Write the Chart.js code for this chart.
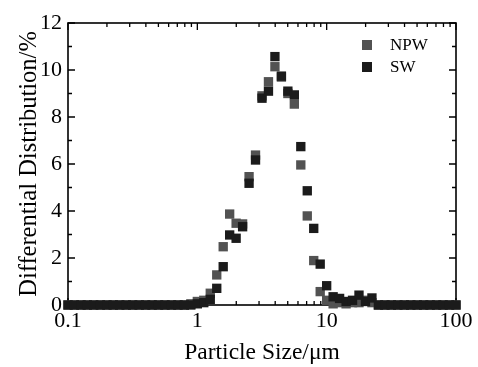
<!DOCTYPE html>
<html><head><meta charset="utf-8">
<script src="https://cdn.jsdelivr.net/npm/chart.js@4.4.1/dist/chart.umd.min.js"></script>
<style>html,body{margin:0;padding:0;background:#fff;}</style>
</head><body>
<canvas id="c" width="478" height="367" style="width:478px;height:367px;display:block"></canvas>
<script>
// Particle size bins (µm)
const sizes = [0.1, 0.112, 0.126, 0.141, 0.158, 0.178, 0.2, 0.224, 0.251, 0.282,
  0.316, 0.355, 0.398, 0.447, 0.501, 0.562, 0.631, 0.708, 0.794, 0.891,
  1, 1.122, 1.259, 1.413, 1.585, 1.778, 1.995, 2.239, 2.512, 2.818,
  3.162, 3.548, 3.981, 4.467, 5.012, 5.623, 6.31, 7.079, 7.943, 8.913,
  10, 11.22, 12.59, 14.13, 15.85, 17.78, 19.95, 22.39, 25.12, 28.18,
  31.62, 35.48, 39.81, 44.67, 50.12, 56.23, 63.1, 70.79, 79.43, 89.13, 100];
// Differential distribution (%)
const npw = [0, 0, 0, 0, 0, 0, 0, 0, 0, 0,
  0, 0, 0, 0, 0, 0, 0, 0, 0, 0.05,
  0.15, 0.2, 0.5, 1.28, 2.48, 3.87, 3.48, 3.45, 5.46, 6.38,
  8.9, 9.5, 10.14, 9.7, 9.0, 8.55, 5.96, 3.79, 1.89, 0.57,
  0.2, 0.05, 0.1, 0.05, 0.1, 0.1, 0.2, 0.1, 0, 0,
  0, 0, 0, 0, 0, 0, 0, 0, 0, 0, 0];
const sw = [0, 0, 0, 0, 0, 0, 0, 0, 0, 0,
  0, 0, 0, 0, 0, 0, 0, 0, 0, 0,
  0.05, 0.1, 0.24, 0.71, 1.63, 2.98, 2.84, 3.33, 5.18, 6.17,
  8.8, 9.1, 10.57, 9.74, 9.1, 8.94, 6.74, 4.86, 3.26, 1.74,
  0.82, 0.35, 0.28, 0.15, 0.2, 0.42, 0.15, 0.3, 0, 0,
  0, 0, 0, 0, 0, 0, 0, 0, 0, 0, 0];
const seriesNames = ['NPW', 'SW'];
const seriesColors = ['#525252', '#1b1b1b'];
const xMajorTicks = [0.1, 1, 10, 100];
const xMinorTicks = [0.2, 0.3, 0.4, 0.5, 0.6, 0.7, 0.8, 0.9, 2, 3, 4, 5, 6, 7, 8, 9, 20, 30, 40, 50, 60, 70, 80, 90];
const yMajorTicks = [0, 2, 4, 6, 8, 10, 12];
const yMinorTicks = [1, 3, 5, 7, 9, 11];
const xTitle = 'Particle Size/\u03bcm';
const yTitle = 'Differential Distribution/%';

const FONT = "'Liberation Serif', 'Times New Roman', serif";

const framePlugin = {
  id: 'frame',
  beforeDatasetsDraw(chart) {
    const ctx = chart.ctx, a = chart.chartArea;
    const xs = chart.scales.x, ys = chart.scales.y;
    ctx.save();
    ctx.strokeStyle = '#000';
    ctx.lineWidth = 1.6;
    ctx.strokeRect(a.left, a.top, a.right - a.left, a.bottom - a.top);
    ctx.lineWidth = 1.3;
    ctx.beginPath();
    const xt = (v, len) => { const p = xs.getPixelForValue(v);
      ctx.moveTo(p, a.bottom); ctx.lineTo(p, a.bottom - len);
      ctx.moveTo(p, a.top); ctx.lineTo(p, a.top + len); };
    const yt = (v, len) => { const p = ys.getPixelForValue(v);
      ctx.moveTo(a.left, p); ctx.lineTo(a.left + len, p);
      ctx.moveTo(a.right, p); ctx.lineTo(a.right - len, p); };
    xMajorTicks.forEach(v => xt(v, 7));
    xMinorTicks.forEach(v => xt(v, 4));
    yMajorTicks.forEach(v => yt(v, 7));
    yMinorTicks.forEach(v => yt(v, 4));
    ctx.stroke();
    ctx.restore();
  },
  afterDraw(chart) {
    const ctx = chart.ctx;
    ctx.save();
    ctx.font = '17px ' + FONT;
    ctx.textBaseline = 'middle';
    ctx.fillStyle = '#000';
    const rows = [45, 67];
    seriesNames.forEach((n, i) => {
      ctx.fillStyle = seriesColors[i];
      ctx.fillRect(362, rows[i] - 5, 10, 10);
      ctx.fillStyle = '#000';
      ctx.fillText(n, 390, rows[i] + 1);
    });
    ctx.restore();
  }
};

const mk = (vals) => sizes.map((s, i) => ({x: s, y: vals[i]}));

new Chart(document.getElementById('c'), {
  type: 'scatter',
  data: {
    datasets: [
      { label: seriesNames[1], data: mk(sw), pointStyle: 'rect', pointRadius: 6.6, pointBorderWidth: 0,
        backgroundColor: seriesColors[1], borderColor: seriesColors[1], clip: false },
      { label: seriesNames[0], data: mk(npw), pointStyle: 'rect', pointRadius: 6.6, pointBorderWidth: 0,
        backgroundColor: seriesColors[0], borderColor: seriesColors[0], clip: false }
    ]
  },
  options: {
    responsive: false,
    animation: false,
    devicePixelRatio: 1,
    layout: { padding: { top: 23, right: 22, left: 0, bottom: 0 } },
    plugins: { legend: { display: false }, tooltip: { enabled: false } },
    scales: {
      x: {
        type: 'logarithmic', min: 0.1, max: 100,
        grid: { display: false, drawTicks: false }, border: { display: false },
        afterBuildTicks: s => { s.ticks = xMajorTicks.map(v => ({ value: v, major: true })); },
        afterFit: s => { s.height = 62; },
        ticks: { autoSkip: false, maxRotation: 0, padding: 3, color: '#000',
          font: { family: FONT, size: 22 }, callback: v => String(v) },
        title: { display: true, text: xTitle, color: '#000', font: { family: FONT, size: 23.5 },
          padding: { top: 0, bottom: 0 } }
      },
      y: {
        min: 0, max: 12,
        grid: { display: false, drawTicks: false }, border: { display: false },
        afterBuildTicks: s => { s.ticks = yMajorTicks.map(v => ({ value: v })); },
        afterFit: s => { s.width = 68; },
        ticks: { padding: 6, color: '#000', font: { family: FONT, size: 22 } },
        title: { display: true, text: yTitle, color: '#000', font: { family: FONT, size: 24.5 },
          padding: { top: 15, bottom: 0 } }
      }
    }
  },
  plugins: [framePlugin]
});
</script>
</body></html>
